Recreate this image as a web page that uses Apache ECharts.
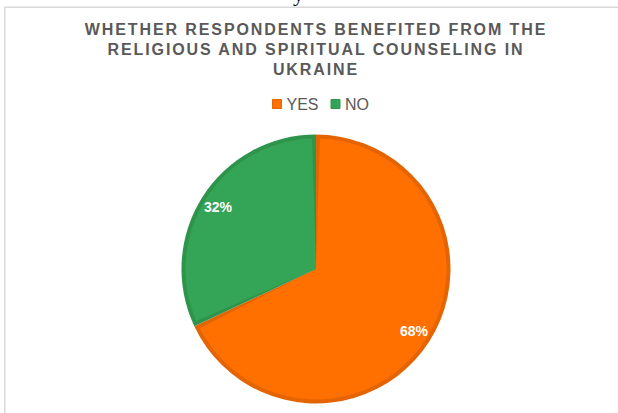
<!DOCTYPE html>
<html>
<head>
<meta charset="utf-8">
<script src="https://cdn.jsdelivr.net/npm/echarts@6/dist/echarts.min.js"></script>
<style>
  html, body { margin: 0; padding: 0; background: #ffffff; }
  #chart { width: 618px; height: 413px; }
  /* spaced-out capitals for the heading lines */
  #chart text[style*="Liberation Sans"] { letter-spacing: 1.9px; }
</style>
</head>
<body>
<div id="chart"></div>
<script>
// Survey answers and their shares (%)
const categories = ['YES', 'NO'];
const shares = [68, 32];
const titleLines = [
  'WHETHER RESPONDENTS BENEFITED FROM THE',
  'RELIGIOUS AND SPIRITUAL COUNSELING IN',
  'UKRAINE'
];

// Slice palette: main fill and darker rim
const fillColors = ['#FF7000', '#34A556'];
const rimColors = ['#E36400', '#2E944B'];

const CENTER = [316, 269];

const rimData = categories.map((name, i) => ({
  name, value: shares[i], itemStyle: { color: rimColors[i] }
}));
const fillData = categories.map((name, i) => ({
  name, value: shares[i], itemStyle: { color: fillColors[i] }
}));
const labelData = categories.map((name, i) => ({
  name, value: shares[i]
}));

const chart = echarts.init(document.getElementById('chart'), null, { renderer: 'svg' });

chart.setOption({
  animation: false,
  backgroundColor: '#ffffff',
  graphic: [
    {
      type: 'rect',
      silent: true,
      shape: { x: 4.75, y: 7.25, width: 700, height: 500 },
      style: { fill: 'none', stroke: '#D9D9D9', lineWidth: 1.5 }
    },
    {
      type: 'text',
      silent: true,
      x: 293, y: -7,
      style: {
        text: 'y',
        font: '22px "Liberation Serif"',
        fill: '#000000',
        textAlign: 'left',
        textVerticalAlign: 'middle'
      }
    },
    {
      type: 'text',
      silent: true,
      x: 316, y: 19.2,
      style: {
        text: titleLines.join('\n'),
        font: 'bold 16px "Liberation Sans"',
        fill: '#595959',
        textAlign: 'center',
        textVerticalAlign: 'top',
        lineHeight: 20.2
      }
    }
  ],
  legend: {
    data: categories.map((name, i) => ({
      name,
      itemStyle: { color: fillColors[i], borderColor: rimColors[i], borderWidth: 1 }
    })),
    left: 272,
    top: 96,
    padding: 0,
    icon: 'rect',
    itemWidth: 9,
    itemHeight: 9,
    itemGap: 12,
    selectedMode: false,
    textStyle: { color: '#595959', fontSize: 16, fontFamily: 'Arial' }
  },
  series: [
    {
      // darker rim underneath
      type: 'pie',
      center: CENTER,
      radius: 134.5,
      startAngle: 90,
      clockwise: true,
      silent: true,
      label: { show: false },
      labelLine: { show: false },
      data: rimData
    },
    {
      // lighter fill, inset from the rim
      type: 'pie',
      center: CENTER,
      radius: 130.5,
      startAngle: 90,
      clockwise: true,
      padAngle: 3.5,
      silent: true,
      label: { show: false },
      labelLine: { show: false },
      data: fillData
    },
    {
      // percentage labels
      type: 'pie',
      center: CENTER,
      radius: [92, 134],
      startAngle: 90,
      clockwise: true,
      silent: true,
      itemStyle: { color: 'rgba(0,0,0,0)' },
      label: {
        show: true,
        position: 'inside',
        formatter: '{c}%',
        color: '#ffffff',
        fontSize: 14,
        fontWeight: 'bold',
        fontFamily: 'Arial'
      },
      labelLine: { show: false },
      data: labelData
    }
  ]
});
</script>
</body>
</html>
